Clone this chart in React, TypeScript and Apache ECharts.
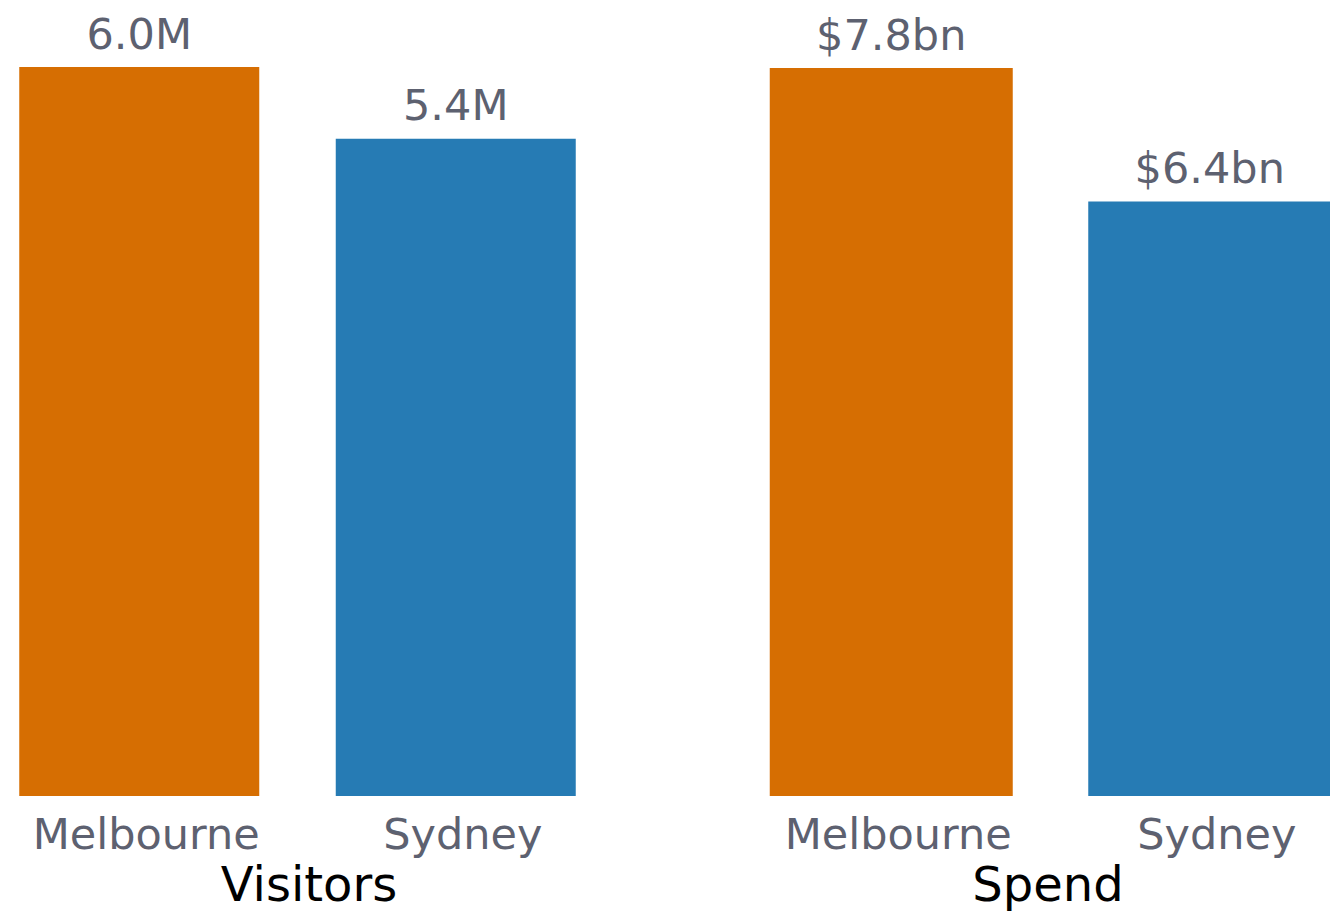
import React, { useEffect, useRef } from "react";
import * as echarts from "echarts";

const categories = ["Melbourne", "Sydney"];
const visitorsValues = [6.0, 5.41];
const visitorsLabels = ["6.0M", "5.4M"];
const spendValues = [7.8, 6.37];
const spendLabels = ["$7.8bn", "$6.4bn"];
const panelTitles = ["Visitors", "Spend"];
const barColors = ["#D66E02", "#267BB4"];

const FONT = "DejaVu Sans";
const GRAY = "#5D6170";

export default function App() {
  const ref = useRef<HTMLDivElement>(null);
  useEffect(() => {
    if (!ref.current) return;
    const chart = echarts.init(ref.current, undefined, { renderer: "svg" });
    const mkData = (vals: number[]) =>
      vals.map((v, i) => ({ value: v, itemStyle: { color: barColors[i] } }));
    const xAxisCommon = {
      type: "category" as const,
      data: categories,
      axisLine: { show: false },
      axisTick: { show: false },
      axisLabel: {
        color: GRAY,
        fontFamily: FONT,
        fontSize: 43,
        margin: 16,
        padding: [0, 0, 0, 14],
      },
    };
    const yAxisCommon = {
      type: "value" as const,
      min: 0,
      show: false,
      splitLine: { show: false },
    };
    chart.setOption({
      animation: false,
      title: [
        {
          text: panelTitles[0],
          left: 304,
          top: 855,
          textAlign: "center",
          textStyle: { color: "#000", fontFamily: FONT, fontSize: 48, fontWeight: "normal" },
        },
        {
          text: panelTitles[1],
          left: 1043,
          top: 855,
          textAlign: "center",
          textStyle: { color: "#000", fontFamily: FONT, fontSize: 48, fontWeight: "normal" },
        },
      ],
      grid: [
        { left: -19, width: 633, top: 67, bottom: 120, outerBoundsMode: "none", containLabel: false },
        { left: 732, width: 637, top: 68, bottom: 120, outerBoundsMode: "none", containLabel: false },
      ],
      xAxis: [
        { ...xAxisCommon, gridIndex: 0 },
        { ...xAxisCommon, gridIndex: 1 },
      ],
      yAxis: [
        { ...yAxisCommon, gridIndex: 0, max: visitorsValues[0] },
        { ...yAxisCommon, gridIndex: 1, max: spendValues[0] },
      ],
      series: [
        {
          type: "bar",
          xAxisIndex: 0,
          yAxisIndex: 0,
          barWidth: 240,
          data: mkData(visitorsValues),
          label: {
            show: true,
            position: "top",
            distance: 12,
            color: GRAY,
            fontFamily: FONT,
            fontSize: 43,
            formatter: (p: any) => visitorsLabels[p.dataIndex],
          },
        },
        {
          type: "bar",
          xAxisIndex: 1,
          yAxisIndex: 1,
          barWidth: 243,
          data: mkData(spendValues),
          label: {
            show: true,
            position: "top",
            distance: 12,
            color: GRAY,
            fontFamily: FONT,
            fontSize: 43,
            formatter: (p: any) => spendLabels[p.dataIndex],
          },
        },
      ],
    });
    return () => chart.dispose();
  }, []);
  return (
    <div
      ref={ref}
      style={{ position: "fixed", left: 0, top: 0, width: 1330, height: 916, background: "#fff" }}
    />
  );
}
